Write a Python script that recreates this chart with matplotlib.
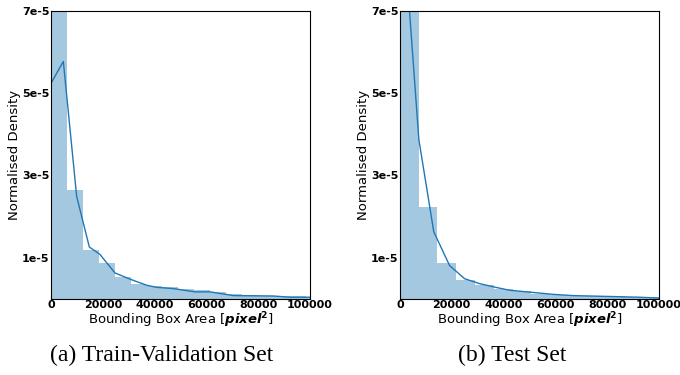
import numpy as np
import matplotlib
matplotlib.use("Agg")
import matplotlib.pyplot as plt

# ---- data ----
train_bin_width = 6140
train_hist = [1.05e-4, 2.65e-5, 1.18e-5, 0.88e-5, 0.53e-5, 0.37e-5, 0.31e-5,
              0.28e-5, 0.25e-5, 0.21e-5, 0.17e-5, 0.13e-5, 0.10e-5, 0.08e-5,
              0.07e-5, 0.06e-5, 0.05e-5]
train_kde_x = [0, 4760, 9910, 14800, 18900, 24700, 30900, 37000, 40800,
               47200, 55600, 61400, 70400, 85800, 92300, 100000]
train_kde_y = [5.24e-5, 5.77e-5, 2.49e-5, 1.26e-5, 1.08e-5, 0.63e-5, 0.47e-5,
               0.33e-5, 0.28e-5, 0.25e-5, 0.17e-5, 0.17e-5, 0.08e-5, 0.07e-5,
               0.04e-5, 0.04e-5]

test_bin_width = 7250
test_hist = [1.10e-4, 2.24e-5, 0.88e-5, 0.47e-5, 0.33e-5, 0.24e-5, 0.19e-5,
             0.13e-5, 0.10e-5, 0.08e-5, 0.07e-5, 0.06e-5, 0.05e-5, 0.04e-5]
test_kde_x = [0, 3730, 7340, 13100, 19200, 25000, 30800, 36300, 42300,
              50700, 59100, 66800, 79700, 92500, 100000]
test_kde_y = [9.6e-5, 7.0e-5, 3.87e-5, 1.63e-5, 0.81e-5, 0.49e-5, 0.37e-5,
              0.29e-5, 0.21e-5, 0.16e-5, 0.11e-5, 0.08e-5, 0.06e-5, 0.04e-5,
              0.02e-5]

y_ticks = [1e-5, 3e-5, 5e-5, 7e-5]
y_ticklabels = ["1e-5", "3e-5", "5e-5", "7e-5"]
x_ticks = [0, 20000, 40000, 60000, 80000, 100000]
captions = ["(a) Train-Validation Set", "(b) Test Set"]

blue = "#1f77b4"
plt.rcParams["mathtext.fontset"] = "dejavusans"

fig = plt.figure(figsize=(6.8, 3.75), dpi=100)
axes = [fig.add_axes([0.075, 0.203, 0.381, 0.768]),
        fig.add_axes([0.588, 0.203, 0.381, 0.768])]

panels = [(train_bin_width, train_hist, train_kde_x, train_kde_y),
          (test_bin_width, test_hist, test_kde_x, test_kde_y)]

for ax, (bw, hist, kx, ky) in zip(axes, panels):
    lefts = np.arange(len(hist)) * bw
    ax.bar(lefts, hist, width=bw, align="edge", color=blue, alpha=0.4,
           linewidth=0)
    ax.plot(kx, ky, color=blue, lw=1.0)
    ax.set_xlim(0, 100000)
    ax.set_ylim(0, 7e-5)
    ax.set_yticks(y_ticks)
    ax.set_yticklabels(y_ticklabels)
    ax.set_xticks(x_ticks)
    ax.set_xticklabels([str(t) for t in x_ticks])
    ax.tick_params(length=0, pad=1, labelsize=8)
    for lab in ax.get_xticklabels() + ax.get_yticklabels():
        lab.set_fontweight("bold")
    ax.set_ylabel("Normalised Density", fontsize=9.5, labelpad=1)
    ax.set_xlabel(r"Bounding Box Area [$\mathbfit{pixel}^\mathbf{2}$]",
                  fontsize=9.5, labelpad=0)
    for s in ax.spines.values():
        s.set_linewidth(0.8)

fig.text(0.238, 0.053, captions[0], family="Liberation Serif", fontsize=17,
         ha="center", va="center")
fig.text(0.753, 0.053, captions[1], family="Liberation Serif", fontsize=17,
         ha="center", va="center")

fig.savefig("out.png", dpi=100)
